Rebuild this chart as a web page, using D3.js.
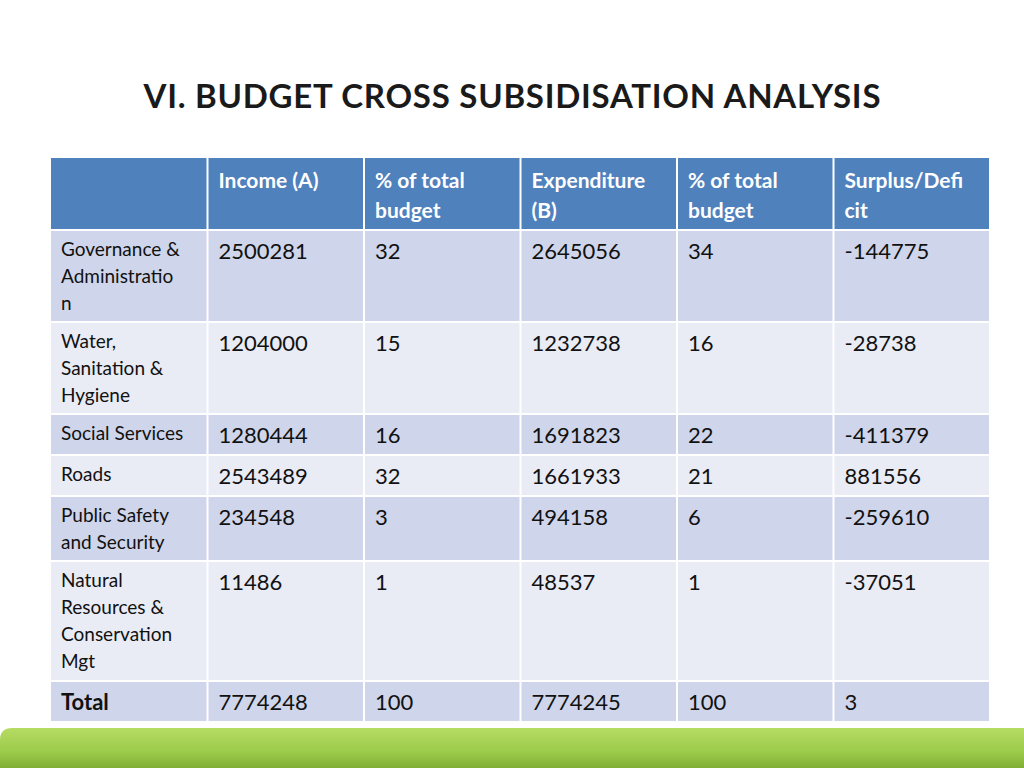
<!DOCTYPE html>
<html><head><meta charset="utf-8">
<script src="https://cdn.jsdelivr.net/npm/d3@7"></script>
<style>body{margin:0;background:#fff}</style></head>
<body><svg id="c" width="1024" height="768"></svg>
<script>
const title = "VI. BUDGET CROSS SUBSIDISATION ANALYSIS";
const headers = [[""],["Income (A)"],["% of total","budget"],["Expenditure","(B)"],["% of total","budget"],["Surplus/Defi","cit"]];
const categories = [["Governance &","Administratio","n"],["Water,","Sanitation &","Hygiene"],["Social Services"],["Roads"],["Public Safety","and Security"],["Natural","Resources &","Conservation","Mgt"],["Total"]];
const income = [2500281,1204000,1280444,2543489,234548,11486,7774248];
const incomePct = [32,15,16,32,3,1,100];
const expenditure = [2645056,1232738,1691823,1661933,494158,48537,7774245];
const expPct = [34,16,22,21,6,1,100];
const surplus = [-144775,-28738,-411379,881556,-259610,-37051,3];

const svg = d3.select("#c");
const defs = svg.append("defs");
const g = defs.append("linearGradient").attr("id","gr").attr("x1",0).attr("y1",0).attr("x2",0).attr("y2",1);
g.append("stop").attr("offset","0%").attr("stop-color","#b5db63");
g.append("stop").attr("offset","60%").attr("stop-color","#9ccb4a");
g.append("stop").attr("offset","100%").attr("stop-color","#7fae35");
svg.append("path").attr("d","M0,740 Q0,728 12,728 L1024,728 L1024,768 L0,768 Z").attr("fill","url(#gr)");

svg.append("text").attr("x",512).attr("y",108).attr("text-anchor","middle")
  .attr("font-family","Lato").attr("font-weight","bold").attr("font-size",33)
  .attr("fill","#1a1a1a").attr("textLength",737).text(title);

const x = d3.scaleBand().domain(d3.range(6)).range([51,990]).paddingInner(0);
const lineH = 27;
const heights = [71].concat(categories.map((c,i)=> i===categories.length-1?39:[90,90,39,39,63,118][i]));
let y0 = 158;
const rows = heights.map(h=>{const r={y:y0,h:h}; y0+=h+2; return r;});
const fills = ["#4f81bd","#cfd5ea","#e9ebf5","#cfd5ea","#e9ebf5","#cfd5ea","#e9ebf5","#cfd5ea"];
const cols = [income,incomePct,expenditure,expPct,surplus];

rows.forEach((r,ri)=>{
  d3.range(6).forEach(ci=>{
    svg.append("rect").attr("x",x(ci)+(ci?1:0)).attr("y",r.y).attr("width",x.bandwidth()-(ci?1:0)-1).attr("height",r.h).attr("fill",fills[ri]);
    let lines, size, bold=false, color="#111";
    if(ri===0){lines=headers[ci];size=21;bold=true;color="#fff";}
    else if(ci===0){lines=categories[ri-1];size=19;if(ri===7){size=22;bold=true;}}
    else {lines=[String(cols[ci-1][ri-1])];size=22;}
    const t = svg.append("text").attr("font-family","Lato").attr("font-size",size)
      .attr("font-weight",bold?"bold":"normal").attr("fill",color);
    const tx = x(ci)+(ci===0?10:11);
    const ty = r.y + (ri===0?30:(ci===0?(ri===7?28:25):28));
    lines.forEach((l,li)=>t.append("tspan").attr("x",tx).attr("y",ty+li*(ri===0?30:lineH)).text(l));
  });
});
</script></body></html>
